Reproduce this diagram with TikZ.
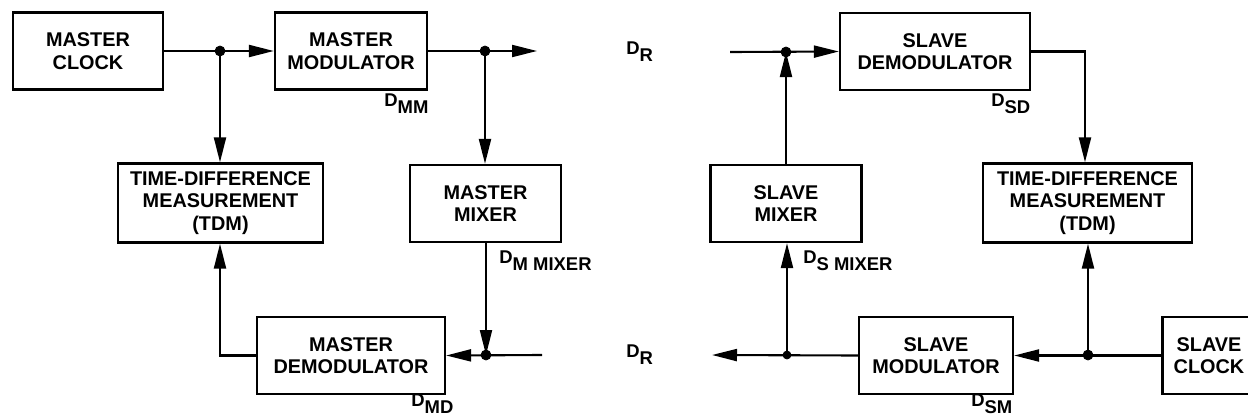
\documentclass[tikz,border=0pt]{standalone}
\usepackage{fontspec}
\setsansfont{Liberation Sans}
\usetikzlibrary{arrows.meta}
\tikzset{
    block/.style={draw, line width=1.3pt, align=center, inner sep=0pt,
        minimum height=15.4mm, font=\sffamily\bfseries\fontsize{11.3}{12.8}\selectfont},
    conn/.style={line width=1.2pt, -{Triangle[length=5mm,width=2.4mm]}},
    lbl/.style={anchor=west, inner sep=0pt, font=\sffamily\bfseries\fontsize{10.5}{11}\selectfont}
}
\newcommand{\dlbl}[1]{D\raisebox{-0.7ex}{#1}}
\begin{document}
\begin{tikzpicture}[x=0.2mm, y=-0.2mm]
        \useasboundingbox (0,0) rectangle (1248,419);
        \clip (0,0) rectangle (1248,419);

        % master side
        \node[block, minimum width=30mm] (mclk) at (88,51) {MASTER\\CLOCK};
        \node[block, minimum width=30.4mm] (mmod) at (351,51) {MASTER\\MODULATOR};
        \node[block, minimum width=41mm, minimum height=15.8mm] (mtdm) at (220.5,203) {TIME-DIFFERENCE\\MEASUREMENT\\(TDM)};
        \node[block, minimum width=30.2mm, minimum height=15.4mm] (mmix) at (485.5,203.5) {MASTER\\MIXER};
        \node[block, minimum width=37.6mm] (mdem) at (351,355.5) {MASTER\\DEMODULATOR};

        % slave side
        \node[block, minimum width=38mm] (sdem) at (935,51.5) {SLAVE\\DEMODULATOR};
        \node[block, minimum width=41.8mm, minimum height=15.8mm] (stdm) at (1087.5,203) {TIME-DIFFERENCE\\MEASUREMENT\\(TDM)};
        \node[block, minimum width=30.2mm, minimum height=15.4mm] (smix) at (786,203.5) {SLAVE\\MIXER};
        \node[block, minimum width=30.8mm] (smod) at (936,355.5) {SLAVE\\MODULATOR};
        \node[block, minimum width=18.6mm] (sclk) at (1209,355.5) {SLAVE\\CLOCK};

        % junctions and free ends
        \coordinate (mj1) at (220,51);
        \coordinate (mj2) at (485,51);
        \coordinate (mout) at (537,51);
        \coordinate (mj3) at (486,355);
        \coordinate (min) at (542,355);
        \coordinate (sin) at (730,52);
        \coordinate (sj1) at (786,52);
        \coordinate (sj2) at (1088,355);
        \coordinate (sj3) at (787,355);
        \coordinate (sout) at (712,355);

        % master connectors
        \draw[conn] (mclk.east) -- (mmod.west);
        \draw[conn] (mj1) -- (mtdm.north -| mj1);
        \draw[conn] (mmod.east) -- (mout);
        \draw[conn] (mj2) -- (mmix.north -| mj2);
        \draw[conn] (mmix.south -| mj3) -- (mj3);
        \draw[conn] (min) -- (mdem.east);
        \draw[conn] (mdem.west) -| (mtdm.south -| mj1);
        \filldraw[black] (mj1) circle (1mm);
        \filldraw[black] (mj2) circle (1mm);
        \filldraw[black] (mj3) circle (1mm);

        % slave connectors
        \draw[conn] (sin) -- (sdem.west);
        \draw[conn] (smix.north -| sj1) -- (sj1);
        \draw[conn] (sdem.east) -| ([xshift=-0.5mm]stdm.north);
        \draw[conn] (sclk.west) -- (smod.east);
        \draw[conn] (sj2) -- (stdm.south -| sj2);
        \draw[conn] (smod.west) -- (sout);
        \draw[conn] (sj3) -- (smix.south -| sj3);
        \filldraw[black] (sj1) circle (1mm);
        \filldraw[black] (sj2) circle (1mm);
        \filldraw[black] (sj3) circle (0.8mm);

        % delay labels
        \node[lbl] (dmm) at (384,104) {\dlbl{MM}};
        \node[lbl] (dsd) at (991,104) {\dlbl{SD}};
        \node[lbl] (dmmix) at (499,261) {\dlbl{M MIXER}};
        \node[lbl] (dsmix) at (803,261) {\dlbl{S MIXER}};
        \node[lbl] (dmd) at (411,404) {\dlbl{MD}};
        \node[lbl] (dsm) at (971,404) {\dlbl{SM}};
        \node[lbl] (drt) at (626,52) {\dlbl{R}};
        \node[lbl] (drb) at (626,355) {\dlbl{R}};
    \end{tikzpicture}
\end{document}
